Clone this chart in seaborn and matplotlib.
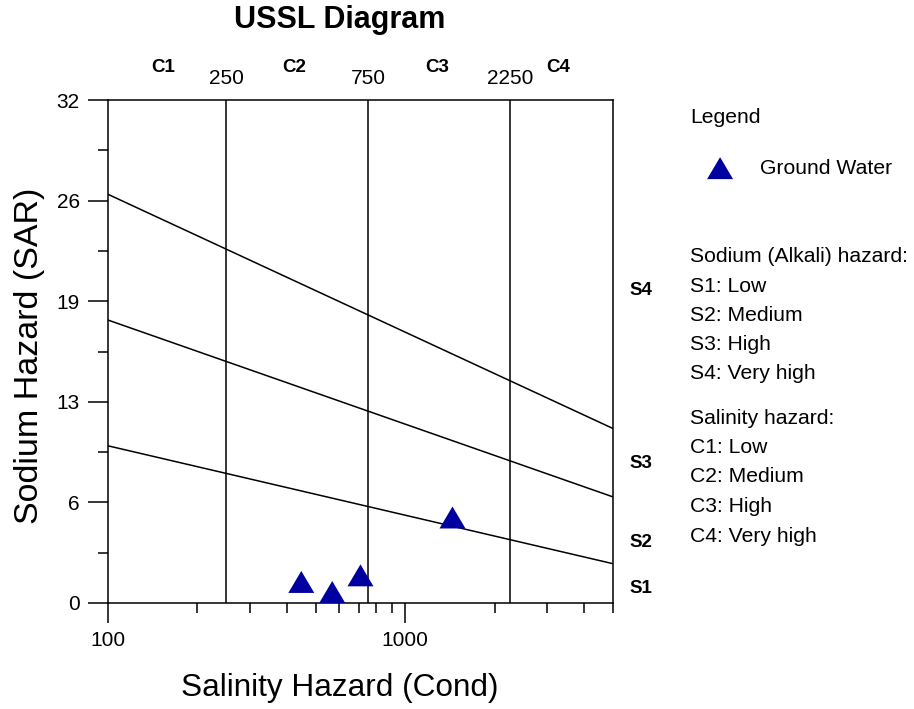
import matplotlib
matplotlib.use("Agg")
import matplotlib.pyplot as plt
import matplotlib.ticker as mticker
import matplotlib.transforms as mtransforms
import numpy as np
import pandas as pd
import seaborn as sns

# Ground water samples: conductivity (µS/cm) and sodium adsorption ratio
cond = [447, 568, 707, 1442]
sar = [1.34, 0.70, 1.76, 5.44]

# Salinity class boundaries (conductivity)
salinity_bounds = [250, 750, 2250]
salinity_bound_labels = ["250", "750", "2250"]
salinity_classes = ["C1", "C2", "C3", "C4"]
salinity_class_pos = [153, 423, 1282, 3275]

# Sodium class boundaries: SAR at conductivity 100 and 5000
bound_cond = [100, 5000]
s1_s2 = [10.0, 2.5]
s2_s3 = [18.0, 6.75]
s3_s4 = [26.0, 11.1]

sodium_classes = ["S1", "S2", "S3", "S4"]
sodium_class_pos = [0.95, 3.88, 8.9, 19.85]

y_ticks = [0, 6.4, 12.8, 19.2, 25.6, 32]
y_tick_labels = ["0", "6", "13", "19", "26", "32"]
y_minor = [3.2, 9.6, 16.0, 22.4, 28.8]
x_ticks = [100, 1000]
x_tick_labels = ["100", "1000"]

sodium_legend = ["Sodium (Alkali) hazard:", "S1: Low", "S2: Medium", "S3: High", "S4: Very high"]
salinity_legend = ["Salinity hazard:", "C1: Low", "C2: Medium", "C3: High", "C4: Very high"]

sns.set_theme(style="ticks")
plt.rcParams["font.family"] = ["Liberation Sans", "DejaVu Sans"]
plt.rcParams["axes.linewidth"] = 1.1
for key in ("text.color", "axes.labelcolor", "xtick.color", "ytick.color",
            "xtick.labelcolor", "ytick.labelcolor", "axes.edgecolor"):
    plt.rcParams[key] = "black"

W, H = 914, 709
fig = plt.figure(figsize=(W / 100, H / 100), dpi=100)
ax = fig.add_axes([108 / W, 1 - 603 / H, (613 - 108) / W, (603 - 100) / H])

ax.set_xscale("log")
ax.set_xlim(100, 5000)
ax.set_ylim(0, 32)

# class boundary lines
for bounds in (s1_s2, s2_s3, s3_s4):
    sns.lineplot(x=bound_cond, y=bounds, ax=ax, color="black", linewidth=1.1)
for b in salinity_bounds:
    ax.axvline(b, color="black", linewidth=1.1)

tri = [(-1, -0.846), (1, -0.846), (0, 0.846)]
df = pd.DataFrame({"cond": cond, "sar": sar})
sns.scatterplot(data=df, x="cond", y="sar", ax=ax, marker=tri, s=350,
                color="#0000A0", edgecolor="none", label="Ground Water", zorder=5)

# ticks
ax.set_xticks(x_ticks, labels=x_tick_labels)
ax.xaxis.set_minor_locator(mticker.LogLocator(base=10, subs=np.arange(2, 10)))
ax.xaxis.set_minor_formatter(mticker.NullFormatter())
ax.set_yticks(y_ticks, labels=y_tick_labels)
ax.set_yticks(y_minor, minor=True)
ax.tick_params(which="major", length=14.4, width=1.1, labelsize=15, pad=6, colors="black")
ax.tick_params(which="minor", length=7.2, width=1.1, colors="black")
ax.tick_params(top=False, right=False, which="both")

# top class labels
top = mtransforms.blended_transform_factory(ax.transData, ax.transAxes)
for lab, xpos in zip(salinity_classes, salinity_class_pos):
    ax.text(xpos, 1.0656, lab, transform=top, ha="center", va="center",
            fontsize=13.5, fontweight="bold")
for lab, xpos in zip(salinity_bound_labels, salinity_bounds):
    ax.text(xpos, 1.0437, lab, transform=top, ha="center", va="center", fontsize=15)

# right class labels
right = mtransforms.blended_transform_factory(ax.transAxes, ax.transData)
for lab, ypos in zip(sodium_classes, sodium_class_pos):
    ax.text(1.055, ypos, lab, transform=right, ha="center", va="center",
            fontsize=13.5, fontweight="bold")

title = ax.set_title("USSL Diagram", fontsize=22, fontweight="bold", pad=0,
                     x=(340 - 108) / 505, y=(603 - 20) / 503)
title.set_verticalalignment("center")
ax.set_xlabel("Salinity Hazard (Cond)", fontsize=22.7)
ax.xaxis.set_label_coords((340 - 108) / 505, -(688 - 603) / 503)
ax.xaxis.label.set_verticalalignment("center")
ax.set_ylabel("Sodium Hazard (SAR)", fontsize=24.5)
ax.yaxis.set_label_coords((30 - 108) / 505, (603 - 356) / 503)
ax.yaxis.label.set_verticalalignment("center")

leg = ax.legend(title="Legend", loc="upper left",
                bbox_to_anchor=(690 / W, 1 - 108 / H), bbox_transform=fig.transFigure,
                frameon=False, fontsize=15.2, title_fontsize=15.2, alignment="left",
                borderpad=0, borderaxespad=0, handlelength=2.85, handletextpad=0.47,
                labelspacing=1.5)

for i, t in enumerate(sodium_legend):
    fig.text(690 / W, 1 - (257 + i * 29.2) / H, t, ha="left", va="center", fontsize=15.2)
for i, t in enumerate(salinity_legend):
    fig.text(690 / W, 1 - (418 + i * 29.5) / H, t, ha="left", va="center", fontsize=15.2)

fig.savefig("out.png", dpi=100)
